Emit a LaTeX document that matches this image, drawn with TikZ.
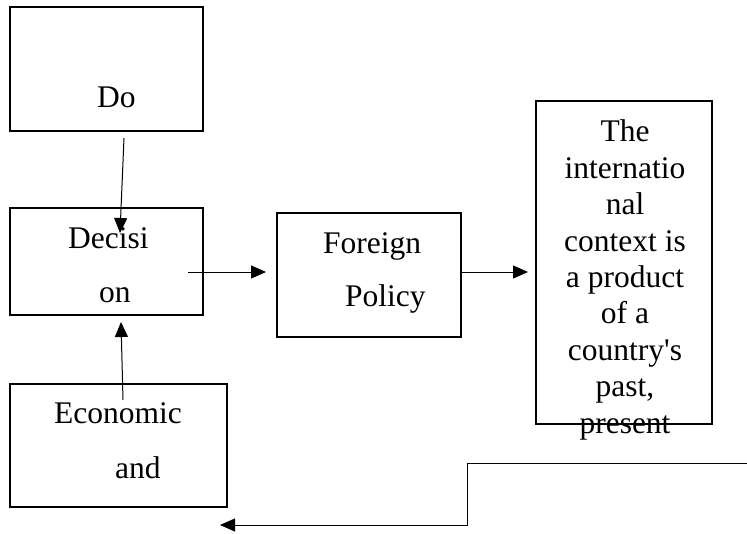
\documentclass[tikz,border=0pt]{standalone}
\usepackage{fontspec}
\setmainfont{Liberation Serif}
\newfontfamily\qfont{Liberation Serif}
\usetikzlibrary{arrows.meta}
\begin{document}
\begin{tikzpicture}[x=1pt,y=-1pt,
  box/.style={draw=black,line width=1.5pt},
  lbl/.style={inner sep=0pt,anchor=base west,font=\fontsize{31.5}{36.4}\selectfont},
  conn/.style={draw=black,line width=1pt,-{Triangle[length=15pt,width=13pt]}},
  plain/.style={draw=black,line width=1pt}]
\useasboundingbox (0,0) rectangle (747,533);
% boxes
\draw[box] (10,7) rectangle (203,131);
\node[inner sep=0] (do) at (106,69) {};
\draw[box] (10,208) rectangle (203,315);
\node[inner sep=0] (dec) at (106,262) {};
\draw[box] (277,213) rectangle (461,337);
\node[inner sep=0] (fp) at (369,275) {};
\draw[box] (536,101) rectangle (712,424);
\node[inner sep=0] (ctx) at (624,262) {};
\draw[box] (10,384) rectangle (227,507);
\node[inner sep=0] (eco) at (118,445) {};
% texts
\node[lbl] (tDo) at (97,107) {Do};
\node[lbl] (tDec1) at (68,248) {Decisi};
\node[lbl] (tDec2) at (99,302) {on};
\node[lbl] (tFp1) at (323,253) {Foreign};
\node[lbl] (tFp2) at (345,306) {Policy};
\node[lbl] (tEco1) at (54,423) {Economic};
\node[lbl] (tEco2) at (115,478) {and};
\node[inner sep=0pt,anchor=base,align=center,font=\fontsize{31.5}{36.4}\selectfont] (tCtx) at (625,433)
  {The\\internatio\\nal\\context is\\a product\\of a\\country{\qfont '}s\\past,\\present};
% connector end points
\coordinate (a1) at (124,138);
\coordinate (a2) at (120,233);
\coordinate (b1) at (123,400);
\coordinate (b2) at (121,322);
\coordinate (c1) at (188,272);
\coordinate (c2) at (266,272);
\coordinate (d1) at (461,272);
\coordinate (d2) at (528,272);
\coordinate (e1) at (747,463);
\coordinate (e2) at (467,463);
\coordinate (e3) at (467,525);
\coordinate (e4) at (220,525);
% connectors
\draw[conn] (a1) -- (a2);
\draw[conn] (b1) -- (b2);
\draw[conn] (c1) -- (c2);
\draw[conn] (d1) -- (d2);
\draw[conn] (e1) -- (e2) -- (e3) -- (e4);
\end{tikzpicture}
\end{document}
